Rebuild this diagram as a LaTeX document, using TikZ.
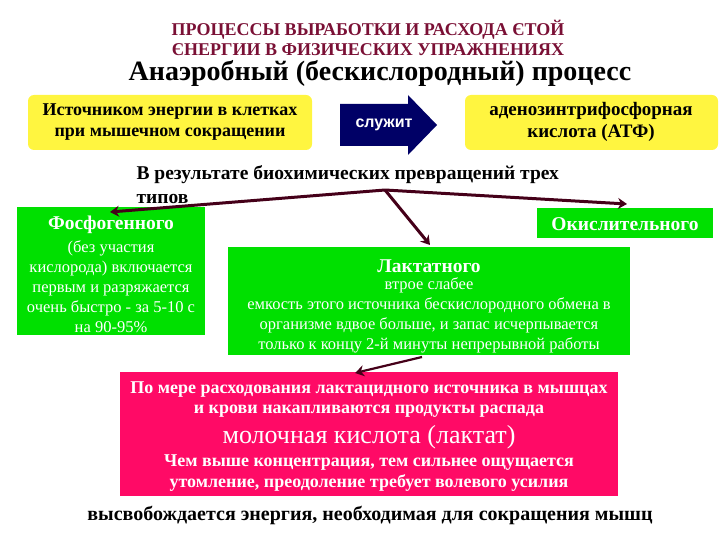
\documentclass[tikz,border=0pt]{standalone}
\usepackage{fontspec}
\setmainfont{Liberation Serif}
\setsansfont{Liberation Sans}
\usetikzlibrary{arrows.meta}
\begin{document}
\begin{tikzpicture}[x=1pt,y=-1pt,
  ybox/.style={fill=yellow!75!white,rounded corners=6pt,draw=none},
  gbox/.style={fill=green!88!black,draw=none},
  conn/.style={draw=red!30!black!90!blue,line width=3pt,-{Stealth[length=9pt,width=11pt]}},
  wt/.style={text=white,font=\bfseries\fontsize{11}{13}\selectfont,align=center}]
\useasboundingbox (0,0) rectangle (720,540);
\definecolor{maroonT}{HTML}{7A1035}
\definecolor{pinkB}{HTML}{FF0A66}
\node[text=maroonT,font=\bfseries\fontsize{18}{20}\selectfont,align=center] (t1) at (368,38) {ПРОЦЕССЫ ВЫРАБОТКИ И РАСХОДА ЄТОЙ\\ЄНЕРГИИ В ФИЗИЧЕСКИХ УПРАЖНЕНИЯХ};
\node[font=\bfseries\fontsize{28}{30}\selectfont] (t2) at (380,73) {Анаэробный (бескислородный) процесс};
\fill[ybox] (28,95) rectangle (312,150);
\node[font=\bfseries\fontsize{18}{21}\selectfont,align=center] (y1) at (170,122) {Источником энергии в клетках\\при мышечном сокращении};
\fill[blue!40!black] (340,104) -- (408,104) -- (408,95) -- (437,125) -- (408,155) -- (408,146) -- (340,146) -- cycle;
\node[text=white,font=\sffamily\bfseries\fontsize{16}{18}\selectfont] (sl) at (384,125) {служит};
\fill[ybox] (465,95) rectangle (718,150);
\node[font=\bfseries\fontsize{19}{22}\selectfont,align=center] (y2) at (591,122) {аденозинтрифосфорная\\кислота (АТФ)};
\node[font=\bfseries\fontsize{19.5}{24}\selectfont,align=left,anchor=north west] (res) at (133,162) {В результате биохимических превращений трех\\типов};
\coordinate (hub) at (385,190);
\fill[gbox] (17,207) rectangle (205,335);
\node[wt,font=\bfseries\fontsize{19.5}{21}\selectfont] (f) at (111,225) {Фосфогенного};
\node[wt,font=\fontsize{16.5}{20}\selectfont] (fb) at (111,287) {(без участия\\кислорода) включается\\первым и разряжается\\очень быстро - за 5-10 с\\на 90-95\%};
\fill[gbox] (537,208) rectangle (713,238);
\node[wt,font=\bfseries\fontsize{19.5}{21}\selectfont] (o) at (625,224) {Окислительного};
\fill[gbox] (228,247) rectangle (630,355);
\node[wt,font=\bfseries\fontsize{19.5}{21}\selectfont] (l) at (429,266) {Лактатного};
\node[wt,font=\fontsize{16.5}{20}\selectfont] (lb) at (429,315) {втрое слабее\\емкость этого источника бескислородного обмена в\\организме вдвое больше, и запас исчерпывается\\только к концу 2-й минуты непрерывной работы};
\fill[pinkB] (120,372) rectangle (618,496);
\node[wt,font=\bfseries\fontsize{18}{20}\selectfont] (p1) at (369,400) {По мере расходования лактацидного источника в мышцах\\и крови накапливаются продукты распада};
\node[wt,font=\fontsize{26}{28}\selectfont] (p2) at (369,437) {молочная кислота (лактат)};
\node[wt,font=\bfseries\fontsize{18}{21}\selectfont] (p3) at (369,473) {Чем выше концентрация, тем сильнее ощущается\\утомление, преодоление требует волевого усилия};
\node[font=\bfseries\fontsize{20}{22}\selectfont] (bot) at (370,515) {высвобождается энергия, необходимая для сокращения мышц};
\coordinate (fa) at (110,212);
\coordinate (la) at (430,245);
\coordinate (oa) at (627,204);
\coordinate (ls) at (422,357);
\coordinate (pa) at (355,373);
\draw[conn] (hub) -- (fa);
\draw[conn] (hub) -- (la);
\draw[conn] (hub) -- (oa);
\draw[conn,line width=2.2pt] (ls) -- (pa);
\end{tikzpicture}
\end{document}
